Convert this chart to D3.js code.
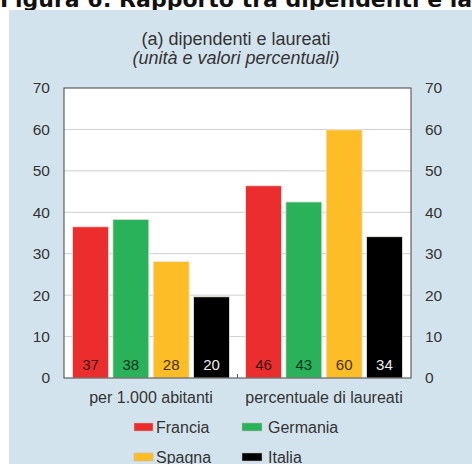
<!DOCTYPE html>
<html><head><meta charset="utf-8">
<script src="https://cdn.jsdelivr.net/npm/d3@7"></script>
<style>body{margin:0;background:#fff;}svg{display:block;font-family:"Liberation Sans",Arial,sans-serif;}</style>
</head><body><svg id="c" width="472" height="464"></svg>
<script>
const groups = ["per 1.000 abitanti", "percentuale di laureati"];
const countries = ["Francia", "Germania", "Spagna", "Italia"];
const colors = ["#ec2d2e", "#2ab25b", "#fdbd26", "#000000"];
const labelColors = ["#3a1515", "#103520", "#3f3210", "#eeeeee"];
const valuesAbitanti = [36.5, 38.3, 28.1, 19.6];
const valuesLaureati = [46.4, 42.5, 59.9, 34.1];
const labelsAbitanti = ["37", "38", "28", "20"];
const labelsLaureati = ["46", "43", "60", "34"];
const yTicks = [0, 10, 20, 30, 40, 50, 60, 70];

const svg = d3.select("#c");
svg.append("text").attr("x", 0).attr("y", 7).attr("font-size", 22).attr("font-weight", "bold")
  .attr("font-family", "DejaVu Sans, sans-serif").attr("fill", "#111").text("Figura 6: Rapporto tra dipendenti e laureati");
svg.append("rect").attr("x", 9).attr("y", 10).attr("width", 463).attr("height", 454).attr("fill", "#d3e3ed");
svg.append("text").attr("x", 236).attr("y", 45).attr("text-anchor", "middle").attr("font-size", 18).attr("fill", "#333").text("(a) dipendenti e laureati");
svg.append("text").attr("x", 236).attr("y", 64).attr("text-anchor", "middle").attr("font-size", 18).attr("font-style", "italic").attr("fill", "#333").text("(unità e valori percentuali)");

const L = 64, R = 411, T = 88, B = 378;
const y = d3.scaleLinear().domain([0, 70]).range([B, T]);
const x0 = d3.scaleBand().domain(groups).range([L, R]).paddingInner(0.046).paddingOuter(0.026);
const x1 = d3.scaleBand().domain(countries).range([0, x0.bandwidth()]).paddingInner(0.107).paddingOuter(0.1);

svg.append("rect").attr("x", L).attr("y", T).attr("width", R - L).attr("height", B - T).attr("fill", "#fff");
svg.selectAll("line.grid").data(yTicks.filter(d => d > 0 && d < 70)).join("line").attr("class", "grid")
  .attr("x1", L).attr("x2", R).attr("y1", d => y(d)).attr("y2", d => y(d)).attr("stroke", "#cfcfcf").attr("stroke-width", 1);

const data = [
  {g: groups[0], vals: valuesAbitanti, labs: labelsAbitanti},
  {g: groups[1], vals: valuesLaureati, labs: labelsLaureati}
];
data.forEach(grp => {
  const gg = svg.append("g").attr("transform", `translate(${x0(grp.g)},0)`);
  countries.forEach((c, i) => {
    gg.append("rect").attr("x", x1(c)).attr("y", y(grp.vals[i])).attr("width", x1.bandwidth()).attr("height", B - y(grp.vals[i]))
      .attr("fill", colors[i]).attr("stroke", "#f0e6e0").attr("stroke-width", 0.8);
    gg.append("text").attr("x", x1(c) + x1.bandwidth() / 2).attr("y", 370).attr("text-anchor", "middle").attr("font-size", 15)
      .attr("fill", labelColors[i]).text(grp.labs[i]);
  });
});

svg.append("rect").attr("x", L).attr("y", T).attr("width", R - L).attr("height", B - T).attr("fill", "none").attr("stroke", "#444").attr("stroke-width", 1);
svg.append("line").attr("x1", (L + R) / 2).attr("x2", (L + R) / 2).attr("y1", B - 4).attr("y2", B).attr("stroke", "#555");

const axL = d3.axisLeft(y).tickValues(yTicks).tickSize(0).tickPadding(14);
const axR = d3.axisRight(y).tickValues(yTicks).tickSize(0).tickPadding(14);
[[axL, L], [axR, R]].forEach(([ax, px]) => {
  svg.append("g").attr("transform", `translate(${px},0)`).call(ax).call(s => s.select(".domain").remove())
    .selectAll("text").attr("font-size", 15.5).attr("fill", "#333").attr("font-family", "Liberation Sans, Arial, sans-serif");
});

svg.selectAll("text.cat").data(groups).join("text").attr("class", "cat")
  .attr("x", d => x0(d) + x0.bandwidth() / 2).attr("y", 403).attr("text-anchor", "middle").attr("font-size", 16).attr("fill", "#333").text(d => d);

const legPos = [[134, 427], [242, 427], [134, 457], [242, 457]];
countries.forEach((c, i) => {
  const [lx, ly] = legPos[i];
  svg.append("rect").attr("x", lx).attr("y", ly - 4).attr("width", i % 2 === 0 ? 19 : 20).attr("height", 8).attr("fill", colors[i]).attr("stroke", "#c8b8b0").attr("stroke-width", 0.5);
  svg.append("text").attr("x", lx + (i % 2 === 0 ? 22 : 26)).attr("y", ly + 6).attr("font-size", 16).attr("fill", "#333").text(c);
});
</script></body></html>
